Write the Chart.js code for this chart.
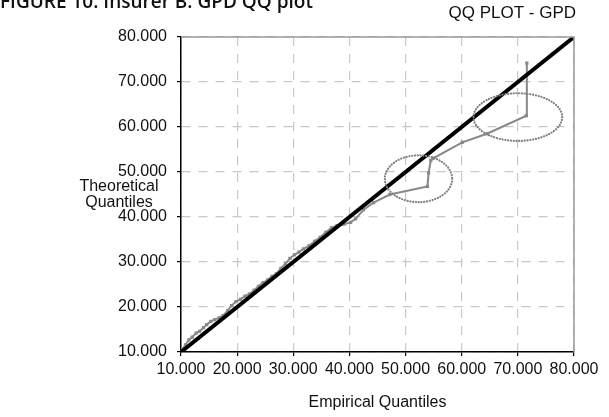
<!DOCTYPE html>
<html>
<head>
<meta charset="utf-8">
<script src="https://cdn.jsdelivr.net/npm/chart.js@4.4.1/dist/chart.umd.min.js"></script>
<style>
  html, body { margin: 0; padding: 0; background: #fff; }
  #wrap { position: relative; width: 609px; height: 417px; overflow: hidden; }
  #fig { position: absolute; left: 0; top: -8px; font-family: "Open Sans", sans-serif; font-weight: 600; font-size: 19px; line-height: 19px; color: #111; white-space: nowrap; }
</style>
</head>
<body>
<div id="wrap">
  <canvas id="qqChart" width="609" height="417"></canvas>
  <div id="fig">FIGURE 10: Insurer B: GPD QQ plot</div>
</div>
<script>
// empirical vs theoretical quantiles
const empirical = [10.3, 10.8, 11.4, 12.0, 12.7, 13.3, 14.0, 14.6, 15.3, 16.0, 16.8, 17.5, 18.3, 19.0, 19.8,
  20.6, 21.4, 22.2, 23.0, 23.8, 24.6, 25.4, 26.2, 27.0, 27.8, 28.6, 29.4, 30.2, 31.0, 31.8, 32.8, 33.8,
  34.8, 35.8, 36.8, 37.8, 39.0, 40.2, 41.1, 42.5, 44.3, 47.2, 53.9, 54.1, 54.5, 55.0, 60.1, 64.5, 71.5, 71.6];
const theoretical = [10.6, 11.6, 12.7, 13.3, 14.2, 14.6, 15.4, 16.1, 16.8, 17.2, 17.6, 18.1, 19.2, 20.3, 21.2,
  21.7, 22.4, 22.9, 23.7, 24.6, 25.4, 26.0, 26.8, 27.4, 28.6, 29.6, 30.8, 31.6, 32.2, 32.9, 33.6, 34.6,
  35.5, 36.6, 37.6, 38.1, 38.4, 38.8, 39.6, 41.6, 43.2, 45.0, 46.8, 49.8, 52.6, 53.1, 56.6, 58.5, 62.5, 74.2];

// 45 degree reference line
const diagX = [10, 80];
const diagY = [10, 80];

const tickValues = [10, 20, 30, 40, 50, 60, 70, 80];

// circled regions (centre and radii in data units)
const ringX = [52.3, 70.0];
const ringY = [48.5, 62.2];
const ringRX = [6.0, 7.9];
const ringRY = [5.2, 5.3];

const chartTitle = 'QQ PLOT - GPD';
const xTitle = 'Empirical Quantiles';
const yTitle = ['Theoretical', 'Quantiles'];

const qqPoints = empirical.map((x, i) => ({ x: x, y: theoretical[i] }));
const diagPoints = diagX.map((x, i) => ({ x: x, y: diagY[i] }));

const FONT = '"Liberation Sans", Arial, sans-serif';

// frame, ellipses and the horizontal texts
const extras = {
  id: 'extras',
  afterDatasetsDraw(chart) {
    const ctx = chart.ctx;
    const xs = chart.scales.x, ys = chart.scales.y;
    const a = chart.chartArea;

    ctx.save();
    ctx.strokeStyle = '#9a9a9a';
    ctx.lineWidth = 1.5;
    ctx.beginPath();
    ctx.moveTo(a.left, a.top);
    ctx.lineTo(a.right, a.top);
    ctx.lineTo(a.right, a.bottom);
    ctx.stroke();

    ctx.strokeStyle = '#808080';
    ctx.lineWidth = 2.2;
    ctx.lineCap = 'round';
    ctx.setLineDash([0.1, 2.7]);
    ringX.forEach((cx, i) => {
      const px = xs.getPixelForValue(cx);
      const py = ys.getPixelForValue(ringY[i]);
      const rx = xs.getPixelForValue(cx + ringRX[i]) - px;
      const ry = py - ys.getPixelForValue(ringY[i] + ringRY[i]);
      ctx.beginPath();
      ctx.ellipse(px, py, rx, ry, 0, 0, Math.PI * 2);
      ctx.stroke();
    });
    ctx.restore();

    ctx.save();
    ctx.fillStyle = '#111';
    ctx.font = '16px ' + FONT;
    ctx.textAlign = 'center';
    ctx.textBaseline = 'middle';
    ctx.fillText(yTitle[0], 119, 187);
    ctx.fillText(yTitle[1], 119, 203);
    ctx.fillText(xTitle, (a.left + a.right) / 2, 403);
    ctx.textAlign = 'right';
    ctx.font = '17px ' + FONT;
    ctx.fillText(chartTitle, 576, 13);
    ctx.restore();
  }
};

new Chart(document.getElementById('qqChart'), {
  type: 'scatter',
  data: {
    datasets: [{
      label: '45 degree',
      data: diagPoints,
      showLine: true,
      borderColor: '#000',
      borderWidth: 4,
      pointRadius: 0
    }, {
      label: 'QQ',
      data: qqPoints,
      showLine: true,
      borderColor: '#888',
      borderWidth: 2,
      pointStyle: 'rect',
      pointRadius: 2.3,
      pointBackgroundColor: '#888',
      pointBorderWidth: 0
    }]
  },
  options: {
    responsive: false,
    animation: false,
    layout: { padding: { top: 37, right: 35, left: 0, bottom: 0 } },
    plugins: { legend: { display: false }, tooltip: { enabled: false } },
    scales: {
      x: {
        type: 'linear',
        min: 10,
        max: 80,
        afterBuildTicks: s => { s.ticks = tickValues.map(v => ({ value: v })); },
        afterFit: s => { s.height = 65; },
        ticks: {
          font: { size: 16, family: FONT },
          color: '#111',
          padding: 4,
          maxRotation: 0,
          autoSkip: false,
          callback: v => v.toFixed(3)
        },
        grid: { color: '#c8c8c8', lineWidth: 1.2, tickColor: '#000', tickLength: 4 },
        border: { color: '#000', width: 1.5, dash: [9, 8] }
      },
      y: {
        type: 'linear',
        min: 10,
        max: 80,
        afterBuildTicks: s => { s.ticks = tickValues.map(v => ({ value: v })); },
        afterFit: s => { s.width = 181; },
        ticks: {
          font: { size: 16, family: FONT },
          color: '#111',
          padding: 10,
          autoSkip: false,
          callback: v => v.toFixed(3)
        },
        grid: { color: '#c8c8c8', lineWidth: 1.2, tickColor: '#000', tickLength: 4 },
        border: { color: '#000', width: 1.5, dash: [9, 8] }
      }
    }
  },
  plugins: [extras]
});
</script>
</body>
</html>
